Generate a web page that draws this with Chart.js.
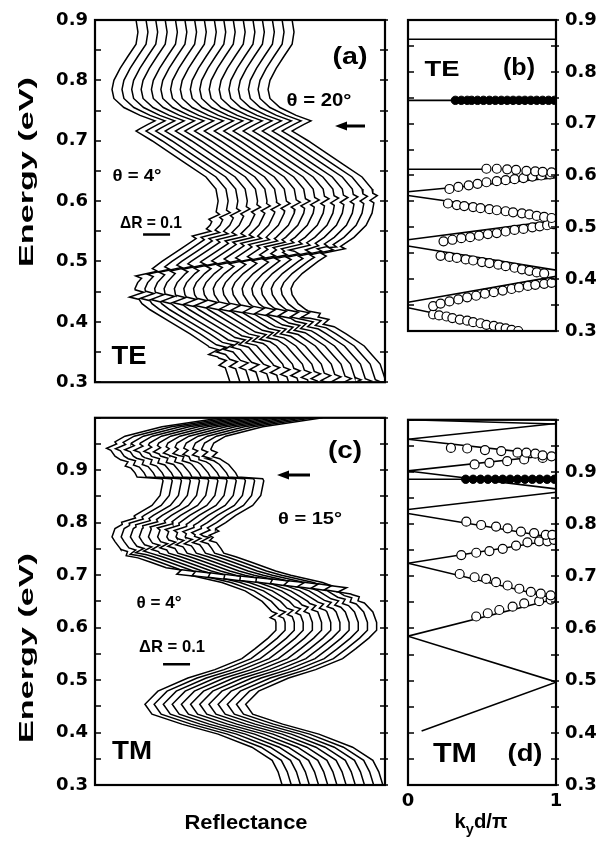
<!DOCTYPE html>
<html>
<head>
<meta charset="utf-8">
<script src="https://cdn.jsdelivr.net/npm/chart.js@4.4.0/dist/chart.umd.min.js"></script>
<style>
  body { margin: 0; background: #fff; }
  #fig { position: relative; width: 602px; height: 842px; }
  canvas { position: absolute; }
</style>
</head>
<body>
<div id="fig">
  <canvas id="ca" width="395" height="400" style="left:0;top:0"></canvas>
  <canvas id="cb" width="207" height="400" style="left:395px;top:0"></canvas>
  <canvas id="cc" width="395" height="442" style="left:0;top:400px"></canvas>
  <canvas id="cd" width="207" height="442" style="left:395px;top:400px"></canvas>
</div>
<script>
// ---- TE reflectance (a): lowest angle trace, the others are shifted copies
const teAngles = [4, 5, 6, 7, 8, 9, 10, 11, 12, 13, 14, 15, 16, 17, 18, 19, 20];
const teEnergy = [0.900, 0.880, 0.860, 0.840, 0.820, 0.800, 0.785, 0.770, 0.755, 0.742, 0.733, 0.727, 0.720, 0.716,
  0.710, 0.700, 0.680, 0.660, 0.640, 0.620, 0.600, 0.580, 0.560, 0.540, 0.520, 0.500, 0.480, 0.465, 0.455, 0.445,
  0.430, 0.420, 0.400, 0.380, 0.360, 0.345, 0.330, 0.310, 0.300];
const teRefl = [0.152, 0.159, 0.152, 0.122, 0.093, 0.070, 0.063, 0.070, 0.107, 0.167, 0.222, 0.196, 0.167, 0.152,
  0.174, 0.211, 0.278, 0.344, 0.411, 0.448, 0.456, 0.448, 0.426, 0.381, 0.315, 0.248, 0.189, 0.158, 0.148, 0.152,
  0.174, 0.204, 0.278, 0.352, 0.419, 0.448, 0.478, 0.493, 0.500];
const teOffsets = [0, 0.037, 0.073, 0.108, 0.146, 0.181, 0.217, 0.253, 0.290, 0.325, 0.360, 0.397, 0.433, 0.468, 0.505, 0.541, 0.578];
// resonance energies seen in each trace (one value per angle)
const teModeB = [0.574, 0.577, 0.580, 0.583, 0.586, 0.588, 0.590, 0.592, 0.594, 0.596, 0.598, 0.600, 0.601, 0.602, 0.603, 0.604, 0.605];
const teModeC = [0.546, 0.544, 0.542, 0.540, 0.538, 0.536, 0.534, 0.532, 0.530, 0.528, 0.527, 0.525, 0.523, 0.522, 0.521, 0.520, 0.520];
const teModeD = [0.480, 0.483, 0.486, 0.488, 0.491, 0.493, 0.496, 0.498, 0.500, 0.503, 0.505, 0.507, 0.509, 0.511, 0.513, 0.515, 0.517];
const teModeE = [0.445, 0.443, 0.441, 0.438, 0.436, 0.433, 0.431, 0.428, 0.425, 0.423, 0.420, 0.418, 0.416, 0.414, 0.412, 0.411, 0.410];
const teModeF = [0.350, 0.354, 0.358, 0.362, 0.366, 0.369, 0.372, 0.375, 0.378, 0.381, 0.384, 0.387, 0.390, 0.393, 0.396, 0.398, 0.400];
const teModeG = [0.332, 0.330, 0.328, 0.325, 0.322, 0.320, 0.317, 0.315, 0.312, 0.310, 0.307, 0.305, 0.302, 0.300, 0.298, 0.296, 0.294];
const teModeAmp = [0.015, 0.025, 0.03, 0.03, 0.025, 0.02];
const teBarR = [0.178, 0.278];
const teBarE = 0.5445;

// ---- TM reflectance (c)
const tmAngles = [4, 5, 6, 7, 8, 9, 10, 11, 12, 13, 14, 15];
const tmEnergy = [1.000, 0.983, 0.965, 0.952, 0.940, 0.927, 0.911, 0.895, 0.887, 0.884, 0.880, 0.870, 0.852, 0.833,
  0.814, 0.800, 0.789, 0.773, 0.764, 0.751, 0.742, 0.735, 0.725, 0.708, 0.700, 0.686, 0.670, 0.650, 0.630, 0.610,
  0.595, 0.580, 0.560, 0.541, 0.520, 0.504, 0.479, 0.454, 0.435, 0.416, 0.397, 0.372, 0.347, 0.325, 0.300];
const tmRefl = [0.470, 0.248, 0.111, 0.067, 0.056, 0.074, 0.122, 0.148, 0.156, 0.248, 0.252, 0.248, 0.241, 0.211,
  0.148, 0.111, 0.074, 0.063, 0.074, 0.093, 0.104, 0.148, 0.204, 0.296, 0.352, 0.470, 0.556, 0.619, 0.656, 0.670,
  0.670, 0.641, 0.593, 0.544, 0.444, 0.344, 0.233, 0.185, 0.211, 0.322, 0.456, 0.581, 0.656, 0.678, 0.693];
const tmOffsets = [0, 0.034, 0.068, 0.101, 0.135, 0.169, 0.203, 0.237, 0.271, 0.305, 0.339, 0.373];
const tmMode1 = [0.706, 0.703, 0.700, 0.697, 0.694, 0.691, 0.688, 0.685, 0.682, 0.679, 0.676, 0.672];
const tmMode2 = [0.623, 0.626, 0.629, 0.632, 0.635, 0.638, 0.641, 0.644, 0.647, 0.650, 0.653, 0.655];
const tmMode3 = [0.741, 0.744, 0.747, 0.750, 0.753, 0.756, 0.759, 0.762, 0.764, 0.766, 0.768, 0.770];
const tmMode4 = [0.805, 0.803, 0.800, 0.798, 0.796, 0.794, 0.791, 0.789, 0.787, 0.785, 0.782, 0.780];
const tmMode5 = [0.912, 0.914, 0.915, 0.916, 0.918, 0.919, 0.920, 0.922, 0.923, 0.924, 0.926, 0.927];
const tmMode6 = [0.946, 0.945, 0.943, 0.942, 0.940, 0.939, 0.937, 0.936, 0.934, 0.933, 0.931, 0.930];
const tmModeAmp = [0.035, 0.015, 0.02, 0.015, 0.015, 0.015];
const tmBarR = [0.252, 0.352];
const tmBarE = 0.530;

// ---- TE band diagram (b): [k0, E0, k1, E1] lines and measured points [k, E]
const teBandLines = [[0, 0.863, 1, 0.863], [0, 0.745, 1, 0.745], [0, 0.612, 0.5, 0.612], [0, 0.5685, 1, 0.5956],
  [0, 0.5614, 1, 0.5206], [0, 0.476, 1, 0.513], [0, 0.464, 1, 0.4174], [0, 0.3555, 1, 0.4055], [0, 0.345, 1, 0.285]];
const teFlatDots = [[0.32, 0.745], [0.36, 0.745], [0.40, 0.745], [0.43, 0.745], [0.47, 0.745], [0.51, 0.745],
  [0.55, 0.745], [0.59, 0.745], [0.63, 0.745], [0.67, 0.745], [0.71, 0.745], [0.75, 0.745], [0.79, 0.745],
  [0.83, 0.745], [0.87, 0.745], [0.91, 0.745], [0.95, 0.745], [0.99, 0.745]];
const teRowA = [[0.53, 0.613], [0.60, 0.613], [0.67, 0.612], [0.73, 0.611], [0.80, 0.609], [0.86, 0.608], [0.91, 0.607], [0.97, 0.606]];
const teRowB = [[0.28, 0.574], [0.34, 0.578], [0.41, 0.581], [0.47, 0.584], [0.53, 0.587], [0.60, 0.589], [0.66, 0.591],
  [0.72, 0.593], [0.78, 0.595], [0.84, 0.598], [0.90, 0.600], [0.96, 0.602]];
const teRowC = [[0.27, 0.546], [0.33, 0.543], [0.38, 0.541], [0.44, 0.539], [0.49, 0.537], [0.55, 0.535], [0.60, 0.533],
  [0.66, 0.531], [0.71, 0.529], [0.77, 0.527], [0.82, 0.525], [0.87, 0.522], [0.92, 0.520], [0.97, 0.518]];
const teRowD = [[0.24, 0.473], [0.30, 0.476], [0.36, 0.479], [0.42, 0.481], [0.48, 0.484], [0.54, 0.487], [0.60, 0.489],
  [0.66, 0.492], [0.72, 0.495], [0.78, 0.497], [0.84, 0.500], [0.89, 0.502], [0.94, 0.504], [0.98, 0.506]];
const teRowE = [[0.22, 0.445], [0.28, 0.443], [0.33, 0.441], [0.39, 0.438], [0.44, 0.436], [0.50, 0.433], [0.55, 0.431],
  [0.61, 0.428], [0.66, 0.425], [0.72, 0.422], [0.77, 0.419], [0.82, 0.416], [0.87, 0.413], [0.92, 0.411]];
const teRowF = [[0.17, 0.348], [0.22, 0.353], [0.28, 0.357], [0.34, 0.361], [0.40, 0.365], [0.46, 0.368], [0.52, 0.372],
  [0.58, 0.375], [0.64, 0.378], [0.70, 0.381], [0.75, 0.384], [0.81, 0.387], [0.86, 0.389], [0.92, 0.391], [0.97, 0.393]];
const teRowG = [[0.17, 0.332], [0.21, 0.330], [0.26, 0.328], [0.30, 0.325], [0.35, 0.322], [0.40, 0.320], [0.44, 0.317],
  [0.49, 0.315], [0.53, 0.312], [0.58, 0.310], [0.62, 0.307], [0.66, 0.305], [0.70, 0.302], [0.745, 0.300]];

// ---- TM band diagram (d)
const tmBandLines = [[0, 1.0, 1, 0.992], [0, 0.9627, 1, 0.9928], [0, 0.9627, 1, 0.9314], [0, 0.902, 1, 0.933],
  [0, 0.902, 1, 0.8675], [0, 0.886, 1, 0.886], [0, 0.828, 1, 0.861], [0, 0.8204, 1, 0.7734], [0, 0.725, 1, 0.770],
  [0, 0.725, 1, 0.657], [0, 0.5853, 1, 0.657], [0, 0.5853, 1, 0.4975], [0.092, 0.4035, 1, 0.497]];
const tmFlatDots = [[0.39, 0.886], [0.44, 0.886], [0.49, 0.886], [0.54, 0.886], [0.59, 0.886], [0.64, 0.886],
  [0.69, 0.886], [0.74, 0.886], [0.79, 0.886], [0.84, 0.886], [0.89, 0.886], [0.94, 0.886], [0.99, 0.886]];
const tmRow1 = [[0.29, 0.946], [0.40, 0.945], [0.52, 0.942], [0.63, 0.940], [0.74, 0.937], [0.80, 0.937], [0.86, 0.935], [0.91, 0.932], [0.97, 0.930]];
const tmRow2 = [[0.45, 0.9145], [0.55, 0.9175], [0.67, 0.9207], [0.785, 0.924], [0.91, 0.927]];
const tmRow3 = [[0.394, 0.8047], [0.494, 0.7984], [0.595, 0.7953], [0.673, 0.792], [0.763, 0.7858], [0.852, 0.7828], [0.931, 0.7796], [0.975, 0.7796]];
const tmRow4 = [[0.36, 0.7407], [0.461, 0.7452], [0.55, 0.7483], [0.64, 0.7527], [0.73, 0.759], [0.807, 0.7652], [0.886, 0.767], [0.942, 0.767], [0.987, 0.770]];
const tmRow5 = [[0.349, 0.7044], [0.45, 0.6982], [0.528, 0.695], [0.595, 0.6888], [0.673, 0.6824], [0.752, 0.6762], [0.83, 0.670], [0.897, 0.6668], [0.964, 0.6636]];
const tmRow6 = [[0.461, 0.623], [0.539, 0.6292], [0.617, 0.6354], [0.707, 0.6418], [0.785, 0.648], [0.886, 0.6523], [0.964, 0.6555]];

// ---------------------------------------------------------------
function baseAt(energy, refl, e) {
  for (let i = 0; i < energy.length - 1; i++) {
    if (e <= energy[i] && e >= energy[i + 1]) {
      const f = (energy[i] - e) / (energy[i] - energy[i + 1]);
      return refl[i] + f * (refl[i + 1] - refl[i]);
    }
  }
  return refl[refl.length - 1];
}

// shifted trace with a sharp peak/dip at each resonance
function buildTrace(energy, refl, offset, modes, amps) {
  const w = 0.004;
  let pts = energy.map((e, i) => ({ x: refl[i] + offset, y: e }));
  modes.forEach((m, j) => {
    pts = pts.filter(p => Math.abs(p.y - m) >= 2 * w);
    [[2, 0], [1, 1], [-1, -1], [-2, 0]].forEach(([k, s]) => {
      const e = m + k * w;
      pts.push({ x: baseAt(energy, refl, e) + offset + s * amps[j], y: e });
    });
  });
  return pts.sort((p, q) => q.y - p.y);
}

const tickFont = { family: 'DejaVu Sans', size: 18, weight: 'bold' };

function yTickLabel(v) {
  const r = Math.round(v * 100);
  if (r % 10 !== 0 || r > 90) return '';
  return (r / 100).toFixed(1);
}

// text, frame and arrows drawn on top of each panel
const decoSpecs = {
  ca: { ox: 0, oy: 0, arrows: [[365, 335, 126]], texts: [
    { t: '(a)', x: 350, y: 58, s: 23, w: 35 },
    { t: 'θ = 20°', x: 319, y: 101, s: 18, w: 65 },
    { t: 'θ = 4°', x: 137, y: 176, s: 17, w: 49 },
    { t: 'ΔR = 0.1', x: 151, y: 223, s: 17, w: 62 },
    { t: 'TE', x: 129, y: 357, s: 25, w: 35 },
    { t: 'Energy (eV)', x: 27, y: 172, s: 21, w: 190, rot: true }
  ] },
  cb: { ox: 395, oy: 0, arrows: [], texts: [
    { t: 'TE', x: 442, y: 70, s: 22, w: 35 },
    { t: '(b)', x: 519, y: 69, s: 23, w: 32 }
  ] },
  cc: { ox: 0, oy: 400, arrows: [[310, 277, 475]], texts: [
    { t: '(c)', x: 345, y: 452, s: 23, w: 34 },
    { t: 'θ = 15°', x: 310, y: 519, s: 17, w: 64 },
    { t: 'θ = 4°', x: 159, y: 603, s: 17, w: 45 },
    { t: 'ΔR = 0.1', x: 172, y: 647, s: 17, w: 66 },
    { t: 'TM', x: 132, y: 752, s: 26, w: 40 },
    { t: 'Energy (eV)', x: 27, y: 648, s: 21, w: 190, rot: true },
    { t: 'Reflectance', x: 246, y: 823, s: 21, w: 123 }
  ] },
  cd: { ox: 395, oy: 400, arrows: [], kd: true, texts: [
    { t: 'TM', x: 455, y: 755, s: 27, w: 44 },
    { t: '(d)', x: 525, y: 755, s: 23, w: 35 }
  ] }
};

function stretchText(ctx, str, x, y, size, width, rot) {
  ctx.save();
  ctx.font = 'bold ' + size + 'px "Liberation Sans", Arial, sans-serif';
  ctx.textAlign = 'center';
  ctx.textBaseline = 'middle';
  ctx.fillStyle = '#000';
  ctx.translate(x, y);
  if (rot) ctx.rotate(-Math.PI / 2);
  const m = ctx.measureText(str).width;
  ctx.scale(width / m, 1);
  ctx.fillText(str, 0, 0);
  ctx.restore();
}

const decoPlugin = {
  id: 'deco',
  afterDraw(chart) {
    const spec = decoSpecs[chart.canvas.id];
    if (!spec) return;
    const ctx = chart.ctx;
    const a = chart.chartArea;
    const ys = chart.scales.y;
    ctx.save();
    ctx.strokeStyle = '#000';
    ctx.lineWidth = 1.5;
    ys.ticks.forEach(t => {
      const py = Math.round(ys.getPixelForValue(t.value));
      ctx.beginPath();
      ctx.moveTo(a.left, py); ctx.lineTo(a.left + 6, py);
      ctx.moveTo(a.right - 5, py); ctx.lineTo(a.right + 3, py);
      ctx.stroke();
    });
    ctx.lineWidth = 2.2;
    ctx.strokeRect(a.left, a.top, a.right - a.left, a.bottom - a.top);

    spec.texts.forEach(o => stretchText(ctx, o.t, o.x - spec.ox, o.y - spec.oy, o.s, o.w, o.rot));

    spec.arrows.forEach(([x0, x1, y]) => {
      const X0 = x0 - spec.ox, X1 = x1 - spec.ox, Y = y - spec.oy;
      ctx.lineWidth = 3;
      ctx.beginPath();
      ctx.moveTo(X0, Y); ctx.lineTo(X1 + 10, Y);
      ctx.stroke();
      ctx.beginPath();
      ctx.moveTo(X1, Y); ctx.lineTo(X1 + 12, Y - 4.5); ctx.lineTo(X1 + 12, Y + 4.5);
      ctx.closePath();
      ctx.fillStyle = '#000';
      ctx.fill();
    });

    if (spec.kd) {
      // k_y d/pi with a real subscript
      const cx = 481 - spec.ox, cy = 821 - spec.oy;
      ctx.fillStyle = '#000';
      ctx.textBaseline = 'alphabetic';
      ctx.textAlign = 'left';
      const big = 'bold 21px "Liberation Sans", Arial, sans-serif';
      const small = 'bold 15px "Liberation Sans", Arial, sans-serif';
      ctx.font = big; const wk = ctx.measureText('k').width;
      ctx.font = small; const wy = ctx.measureText('y').width;
      ctx.font = big; const wd = ctx.measureText('d/π').width;
      const tot = wk + wy + wd;
      ctx.save();
      ctx.translate(cx - 53 / 2, cy + 7);
      ctx.scale(53 / tot, 1);
      ctx.font = big; ctx.fillText('k', 0, 0);
      ctx.font = small; ctx.fillText('y', wk, 6);
      ctx.font = big; ctx.fillText('d/π', wk + wy, 0);
      ctx.restore();
    }
    ctx.restore();
  }
};
Chart.register(decoPlugin);

function reflChart(id, traces, barR, barE, yMax, pad) {
  const datasets = traces.map(pts => ({
    data: pts, borderColor: '#000', borderWidth: 1.5, pointRadius: 0, tension: 0, fill: false
  }));
  datasets.push({
    data: [{ x: barR[0], y: barE }, { x: barR[1], y: barE }],
    borderColor: '#000', borderWidth: 2.5, pointRadius: 0
  });
  return new Chart(document.getElementById(id), {
    type: 'line',
    data: { datasets },
    options: {
      responsive: false,
      animation: false,
      layout: { padding: pad },
      plugins: { legend: { display: false }, tooltip: { enabled: false } },
      scales: {
        x: { type: 'linear', min: 0, max: 1.074, display: false },
        y: {
          type: 'linear', min: 0.3, max: yMax,
          grid: { display: false, drawTicks: false },
          border: { display: false },
          ticks: { stepSize: 0.05, autoSkip: false, padding: 7, color: '#000', font: tickFont, callback: yTickLabel },
          afterFit: s => { s.width = 95; }
        }
      }
    }
  });
}

function bandChart(id, lines, dots, rows, yMax, pad, showX) {
  const datasets = [];
  rows.forEach(r => datasets.push({
    data: r.map(([k, e]) => ({ x: k, y: e })), showLine: false, pointRadius: 4.5,
    pointBackgroundColor: '#fff', pointBorderColor: '#000', pointBorderWidth: 1.2, order: 1
  }));
  datasets.push({
    data: dots.map(([k, e]) => ({ x: k, y: e })), showLine: false, pointRadius: 4.2,
    pointBackgroundColor: '#000', pointBorderColor: '#000', pointBorderWidth: 1, order: 1
  });
  lines.forEach(([k0, e0, k1, e1]) => datasets.push({
    data: [{ x: k0, y: e0 }, { x: k1, y: e1 }], showLine: true, pointRadius: 0,
    borderColor: '#000', borderWidth: 1.6, order: 2
  }));
  return new Chart(document.getElementById(id), {
    type: 'scatter',
    data: { datasets },
    options: {
      responsive: false,
      animation: false,
      layout: { padding: pad },
      plugins: { legend: { display: false }, tooltip: { enabled: false } },
      scales: {
        x: {
          type: 'linear', min: 0, max: 1, display: showX,
          grid: { display: false, drawTicks: false },
          border: { display: false },
          ticks: { stepSize: 1, padding: 6, color: '#000', font: tickFont },
          afterFit: s => { s.height = 57; }
        },
        y: {
          type: 'linear', position: 'right', min: 0.3, max: yMax,
          grid: { display: false, drawTicks: false },
          border: { display: false },
          ticks: { stepSize: 0.05, autoSkip: false, padding: 9, color: '#000', font: tickFont, callback: yTickLabel },
          afterFit: s => { s.width = 46; }
        }
      }
    }
  });
}

const teTraces = teAngles.map((a, i) => buildTrace(teEnergy, teRefl, teOffsets[i],
  [teModeB[i], teModeC[i], teModeD[i], teModeE[i], teModeF[i], teModeG[i]], teModeAmp));
const tmTraces = tmAngles.map((a, i) => buildTrace(tmEnergy, tmRefl, tmOffsets[i],
  [tmMode1[i], tmMode2[i], tmMode3[i], tmMode4[i], tmMode5[i], tmMode6[i]], tmModeAmp));

reflChart('ca', teTraces, teBarR, teBarE, 0.9, { left: 0, right: 10, top: 20, bottom: 12 });
reflChart('cc', tmTraces, tmBarR, tmBarE, 1.0, { left: 0, right: 10, top: 12, bottom: 57 });
bandChart('cb', teBandLines, teFlatDots, [teRowA, teRowB, teRowC, teRowD, teRowE, teRowF, teRowG], 0.9,
  { left: 13, right: 0, top: 20, bottom: 12 }, false);
bandChart('cd', tmBandLines, tmFlatDots, [tmRow1, tmRow2, tmRow3, tmRow4, tmRow5, tmRow6], 1.0,
  { left: 13, right: 0, top: 12, bottom: 0 }, true);
</script>
</body>
</html>
